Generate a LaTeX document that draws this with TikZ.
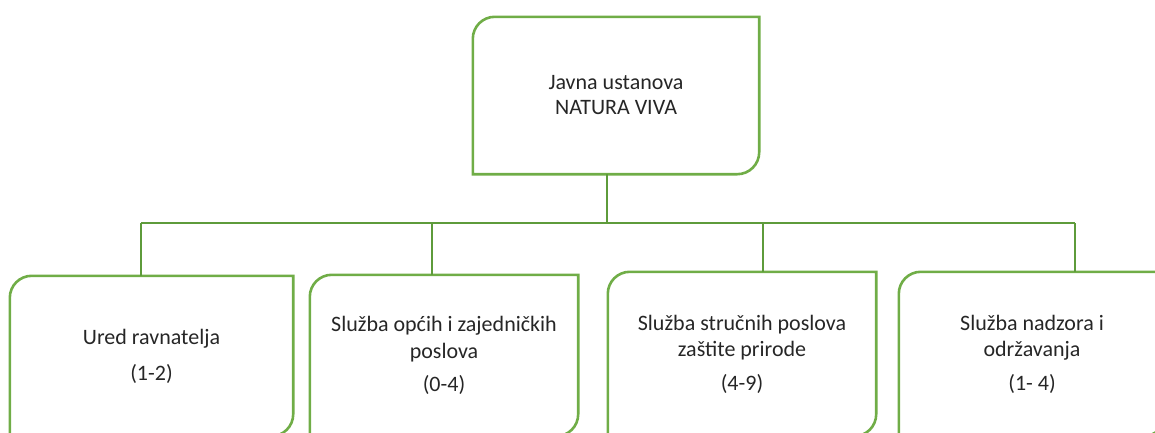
\documentclass[tikz,border=0pt]{standalone}
\usepackage{fontspec}
\setmainfont{Carlito}
\definecolor{boxgreen}{HTML}{70AD47}
\definecolor{linegreen}{HTML}{5E9B3B}
\definecolor{txt}{HTML}{262626}
\tikzset{
  boxnode/.style={rectangle, inner sep=0pt, align=center, text=txt,
    font=\fontsize{22pt}{26pt}\selectfont},
  boxline/.style={draw=boxgreen, line width=2.6pt},
  conn/.style={draw=linegreen, line width=2.8pt}
}
\newcommand\gbox[1]{%
  \draw[boxline] (#1.south west) -- ([yshift=-22pt]#1.north west)
    arc[start angle=180,end angle=90,radius=22pt] -- (#1.north east)
    -- ([yshift=22pt]#1.south east)
    arc[start angle=0,end angle=-90,radius=22pt] -- cycle;}
\begin{document}
\begin{tikzpicture}[x=1pt,y=1pt]
\useasboundingbox (0,0) rectangle (1155,-432);
\clip (0,0) rectangle (1155,-432);
\node[boxnode, minimum width=286pt, minimum height=157pt] (top) at (616,-95.5)
  {Javna ustanova\\[-1pt]NATURA VIVA};
\node[boxnode, minimum width=283pt, minimum height=160pt] (b1) at (151.5,-356)
  {Ured ravnatelja\\[10pt](1-2)};
\node[boxnode, minimum width=268pt, minimum height=161pt] (b2) at (444,-355.5)
  {Služba općih i zajedničkih\\[1pt]poslova\\[7pt](0-4)};
\node[boxnode, minimum width=268pt, minimum height=164pt] (b3) at (742,-354)
  {Služba stručnih poslova\\zaštite prirode\\[8pt](4-9)};
\node[boxnode, minimum width=266pt, minimum height=164pt] (b4) at (1032,-354)
  {Služba nadzora i\\održavanja\\[8pt](1- 4)};
\gbox{top}\gbox{b1}\gbox{b2}\gbox{b3}\gbox{b4}
\coordinate (bus) at (607,-223);
\coordinate (t1) at (141,-223);
\coordinate (t2) at (432,-223);
\coordinate (t3) at (763,-223);
\coordinate (t4) at (1075,-223);
\draw[conn] (top.south -| bus) -- (bus);
\draw[conn] (t1) -- (t4);
\draw[conn] (t1) -- (t1 |- b1.north);
\draw[conn] (t2) -- (t2 |- b2.north);
\draw[conn] (t3) -- (t3 |- b3.north);
\draw[conn] (t4) -- (t4 |- b4.north);
\end{tikzpicture}
\end{document}
